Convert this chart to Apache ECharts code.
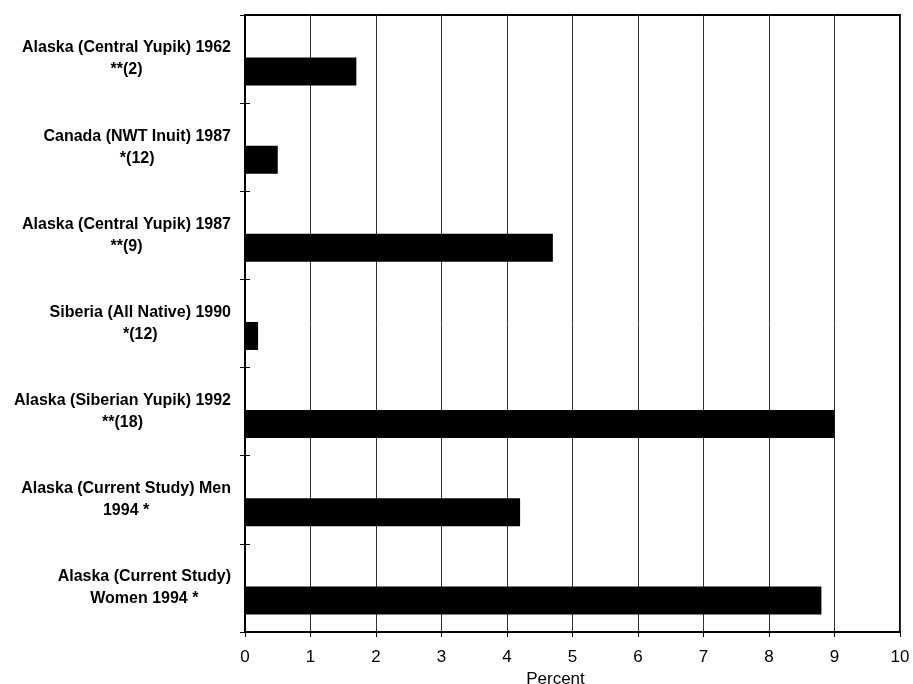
<!DOCTYPE html>
<html>
<head>
<meta charset="utf-8">
<script src="https://cdn.jsdelivr.net/npm/echarts@6/dist/echarts.min.js"></script>
<style>html,body{margin:0;padding:0;background:#fff}#c{width:913px;height:684px}</style>
</head>
<body>
<div id="c"></div>
<script>
const categories = [
  "Alaska (Central Yupik) 1962\n**(2)",
  "Canada (NWT Inuit) 1987\n*(12)",
  "Alaska (Central Yupik) 1987\n**(9)",
  "Siberia (All Native) 1990\n*(12)",
  "Alaska (Siberian Yupik) 1992\n**(18)",
  "Alaska (Current Study) Men\n1994 *",
  "Alaska (Current Study)\nWomen 1994 *"
];
const percentValues = [1.7, 0.5, 4.7, 0.2, 9.0, 4.2, 8.8];
const xTicks = [0, 1, 2, 3, 4, 5, 6, 7, 8, 9, 10];
const xAxisName = "Percent";

const chart = echarts.init(document.getElementById('c'), null, {renderer: 'canvas'});
const font = "'Liberation Sans', Arial, Helvetica, sans-serif";
chart.setOption({
  backgroundColor: '#fff',
  animation: false,
  grid: {left: 245, top: 15, right: 13, bottom: 52, show: true, borderColor: '#000', borderWidth: 2, backgroundColor: 'transparent', containLabel: false, outerBoundsMode: 'none'},
  xAxis: {
    type: 'value', min: xTicks[0], max: xTicks[xTicks.length - 1], interval: 1,
    name: xAxisName, nameLocation: 'middle', nameGap: 35,
    nameTextStyle: {fontFamily: font, fontSize: 17, color: '#000', padding: [0, 34, 0, 0]},
    axisLine: {show: true, lineStyle: {color: '#000', width: 2}},
    axisTick: {show: true, length: 5, lineStyle: {color: '#000', width: 1}},
    axisLabel: {fontFamily: font, fontSize: 17, color: '#000', margin: 17},
    splitLine: {show: true, lineStyle: {color: '#333', width: 1}}
  },
  yAxis: [{
    type: 'category', data: categories, inverse: true,
    axisLine: {show: true, lineStyle: {color: '#000', width: 2}},
    axisTick: {show: true, length: 5, lineStyle: {color: '#000', width: 1}},
    axisLabel: {
      margin: 14, align: 'right',
      formatter: function (v) { return v.split('\n').map(s => '{a|' + s + '}').join('\n'); },
      rich: {a: {fontFamily: font, fontSize: 16, fontWeight: 'bold', color: '#000', align: 'center', lineHeight: 22}}
    },
    splitLine: {show: false}
  }, {
    type: 'category', data: categories, inverse: true, position: 'left',
    axisLine: {show: false},
    axisTick: {show: true, inside: true, length: 5, lineStyle: {color: '#000', width: 1}},
    axisLabel: {show: false},
    splitLine: {show: false}
  }],
  series: [{
    type: 'bar', yAxisIndex: 0, data: categories.map(() => '-'), barWidth: 28, barGap: '-11%',
    itemStyle: {color: 'transparent'}, silent: true
  }, {
    type: 'bar', yAxisIndex: 0, data: percentValues, barWidth: 28, barGap: '-11%',
    itemStyle: {color: '#000'}
  }]
});
</script>
</body>
</html>
